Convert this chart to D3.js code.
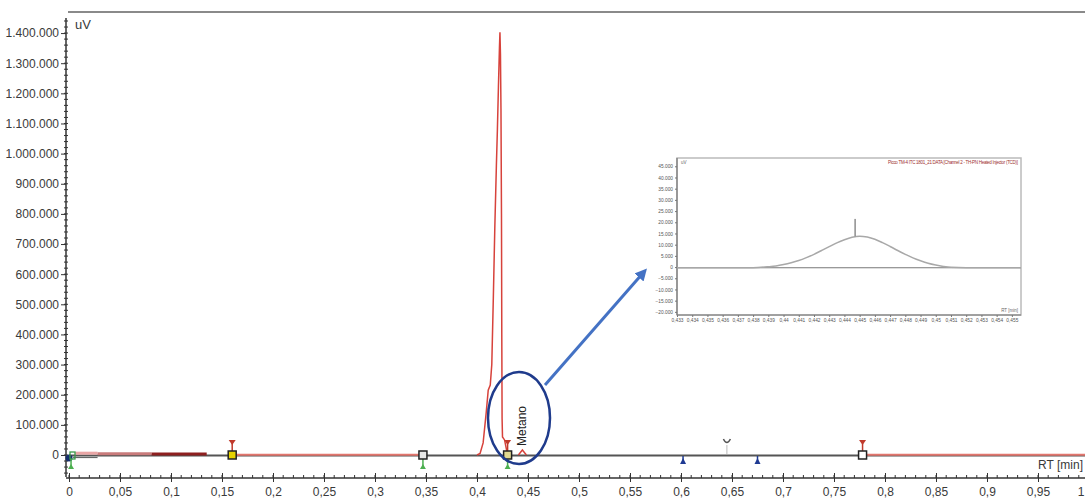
<!DOCTYPE html>
<html><head><meta charset="utf-8">
<script src="https://cdn.jsdelivr.net/npm/d3@7"></script>
<style>
body{margin:0;background:#fff}
svg{display:block;font-family:"Liberation Sans",Arial,sans-serif}
</style>
</head><body>
<svg id="c" width="1085" height="500"></svg>
<script>
// ---------------- DATA ----------------
const yTickValues = [0,100000,200000,300000,400000,500000,600000,700000,800000,900000,1000000,1100000,1200000,1300000,1400000];
const xTickValues = [0,0.05,0.1,0.15,0.2,0.25,0.3,0.35,0.4,0.45,0.5,0.55,0.6,0.65,0.7,0.75,0.8,0.85,0.9,0.95,1];

// main peak trace (RT min, uV)
const peakRT = [0.400,0.403,0.406,0.409,0.411,0.413,0.4145,0.416,0.4175,0.419,0.420,0.421,0.422,0.4225,0.423,0.4235,0.424,0.4243,0.4246,0.425,0.427,0.430];
const peakUV = [0,5000,40000,140000,215000,232000,300000,520000,760000,960000,1080000,1220000,1350000,1403000,1330000,1150000,800000,400000,120000,60000,50000,0];

// highlighted (red) baseline segments
const segStart = [0.006,0.028,0.081,0.160,0.778];
const segEnd   = [0.028,0.081,0.135,0.347,1.000];
const segUV    = [6000,4000,3500,1000,1000];

// integration markers
const squareRT   = [0.160,0.347,0.430,0.778];
const redTopRT   = [0.160,0.430,0.778];
const greenBotRT = [0.002,0.347,0.430];
const blueBotRT  = [0.602,0.675];
const grayTopRT  = [0.645];
const peakLabelRT = [0.4445];
const peakLabels  = ["Metano"];

// inset chromatogram
const insetRT = [0.433,0.436,0.438,0.439,0.4395,0.440,0.4405,0.441,0.4415,0.442,0.4425,0.443,0.4435,0.444,0.4445,0.445,0.4455,0.446,0.4465,0.447,0.4475,0.448,0.4485,0.449,0.4495,0.450,0.4505,0.451,0.452,0.455,0.4556];
const insetUV = [-300,-300,-280,150,500,1100,1900,2900,4200,5700,7400,9100,10800,12200,13300,13800,13400,12400,10900,9200,7400,5700,4100,2800,1700,900,300,-100,-280,-300,-300];
const insetYTicks = [-20000,-15000,-10000,-5000,0,5000,10000,15000,20000,25000,30000,35000,40000,45000];
const insetXTicks = [0.433,0.434,0.435,0.436,0.437,0.438,0.439,0.44,0.441,0.442,0.443,0.444,0.445,0.446,0.447,0.448,0.449,0.45,0.451,0.452,0.453,0.454,0.455];
const insetTitle = "Picco TM-4 ITC 1801_21 DATA [Channel 2 - TH-PN Heated Injector (TCD)]";

// ---------------- STYLES ----------------
const segColors = ["#e9a5a5","#c97b7b","#8e1f1f","#e2766e","#e2766e"];
const segWidths = [3,3,3,2,2];

// ---------------- DRAW ----------------
const svg = d3.select("#c");
const loc = d3.formatLocale({decimal:",", thousands:".", grouping:[3], currency:["",""]});
const fy = loc.format(",.0f");
const fx = loc.format(".2~f");
const fix = loc.format(".3~f");

const x = d3.scaleLinear().domain([0,1]).range([69,1089]);
const y = d3.scaleLinear().domain([-73000,1450000]).range([477,18]);
const base = y(0);

// top border
svg.append("line").attr("x1",68).attr("x2",1085).attr("y1",12).attr("y2",12)
  .attr("stroke","#8a8a8a").attr("stroke-width",2);

// Y axis (minor + major)
const yMinor = d3.range(-60000,1450001,20000);
const gy = svg.append("g").attr("transform","translate(66,0)");
gy.append("line").attr("x1",0).attr("x2",0).attr("y1",y(1450000)).attr("y2",477).attr("stroke","#333").attr("stroke-width",1.5);
gy.selectAll(".mn").data(yMinor).join("line").attr("x1",-2).attr("x2",2)
  .attr("y1",d=>y(d)).attr("y2",d=>y(d)).attr("stroke","#333");
gy.call(d3.axisLeft(y).tickValues(yTickValues).tickFormat(fy).tickSize(5).tickPadding(2))
  .call(g=>g.select(".domain").remove())
  .call(g=>g.selectAll("text").attr("font-size",12).attr("fill","#3a3a3a"))
  .call(g=>g.selectAll(".tick line").attr("stroke","#333"));

// X axis
const xMinor = d3.range(0,1.0001,0.01);
const gx = svg.append("g").attr("transform","translate(0,478)");
gx.append("line").attr("x1",66).attr("x2",1085).attr("y1",0).attr("y2",0).attr("stroke","#333").attr("stroke-width",1.5);
gx.selectAll(".mn").data(xMinor).join("line").attr("x1",d=>x(d)).attr("x2",d=>x(d))
  .attr("y1",-3).attr("y2",0).attr("stroke","#333");
gx.call(d3.axisBottom(x).tickValues(xTickValues).tickFormat(fx).tickSize(4).tickPadding(5))
  .call(g=>g.select(".domain").remove())
  .call(g=>g.selectAll("text").attr("font-size",12).attr("fill","#3a3a3a"))
  .call(g=>g.selectAll(".tick line").attr("stroke","#333").attr("y1",-5))
  .call(g=>g.selectAll(".tick").filter(d=>d===1).select("text").attr("text-anchor","end").attr("dx",-5));

// axis titles
svg.append("text").attr("x",75).attr("y",29).attr("font-size",13).attr("fill","#3a3a3a").text("uV");
svg.append("text").attr("x",1083).attr("y",469).attr("text-anchor","end").attr("font-size",12).attr("fill","#3a3a3a").text("RT [min]");

// baseline
svg.append("line").attr("x1",x(0)).attr("x2",1085).attr("y1",base+0.5).attr("y2",base+0.5)
  .attr("stroke","#555").attr("stroke-width",2);
svg.append("line").attr("x1",x(0.004)).attr("x2",x(0.028)).attr("y1",base+2.5).attr("y2",base+2.5)
  .attr("stroke","#666").attr("stroke-width",1.2);

// red segments
segStart.forEach((s,i)=>{
  svg.append("line").attr("x1",x(s)).attr("x2",x(segEnd[i]))
    .attr("y1",y(segUV[i])).attr("y2",y(segUV[i]))
    .attr("stroke",segColors[i]).attr("stroke-width",segWidths[i]);
});

// peak
const peakData = peakRT.map((r,i)=>[r,peakUV[i]]);
svg.append("path").datum(peakData)
  .attr("d",d3.line().x(d=>x(d[0])).y(d=>y(d[1])))
  .attr("fill","none").attr("stroke","#d7423b").attr("stroke-width",1.5);

// start markers
svg.append("circle").attr("cx",x(0)).attr("cy",base+3).attr("r",3.5).attr("fill","#17306e");
svg.append("rect").attr("x",x(0)+1).attr("y",base-3).attr("width",5).attr("height",7)
  .attr("fill","none").attr("stroke","#3a9a4a").attr("stroke-width",1.3);

// red top markers
redTopRT.forEach(r=>{
  const cx = x(r);
  svg.append("line").attr("x1",cx).attr("x2",cx).attr("y1",base-4).attr("y2",base-13).attr("stroke","#c0392b").attr("stroke-width",1.5);
  svg.append("path").attr("d",`M${cx-3.5},${base-15}L${cx+3.5},${base-15}L${cx},${base-10}Z`).attr("fill","#c0392b");
});
// green bottom markers
greenBotRT.forEach(r=>{
  const cx = x(r);
  svg.append("line").attr("x1",cx).attr("x2",cx).attr("y1",base+4).attr("y2",base+12).attr("stroke","#4caf50").attr("stroke-width",1.5);
  svg.append("path").attr("d",`M${cx-3},${base+14}L${cx+3},${base+14}L${cx},${base+9}Z`).attr("fill","#4caf50");
});
// blue bottom markers
blueBotRT.forEach(r=>{
  const cx = x(r);
  svg.append("line").attr("x1",cx).attr("x2",cx).attr("y1",base+1).attr("y2",base+8).attr("stroke","#1f3a93").attr("stroke-width",1.5);
  svg.append("path").attr("d",`M${cx-3},${base+9}L${cx+3},${base+9}L${cx},${base+3}Z`).attr("fill","#1f3a93");
});
// gray top chevrons
grayTopRT.forEach(r=>{
  const cx = x(r);
  svg.append("line").attr("x1",cx).attr("x2",cx).attr("y1",base-1).attr("y2",base-10).attr("stroke","#bbb").attr("stroke-width",1);
  svg.append("path").attr("d",`M${cx-3.5},${base-16}Q${cx},${base-9} ${cx+3.5},${base-16}`).attr("fill","none").attr("stroke","#555").attr("stroke-width",1.5);
});
// squares
const sqFill = ["#e6d200","#e8e8e8","#e0d890","#ffffff"];
squareRT.forEach((r,i)=>{
  svg.append("rect").attr("x",x(r)-4).attr("y",base-4).attr("width",8).attr("height",8)
    .attr("fill",sqFill[i]).attr("stroke","#222").attr("stroke-width",1.5);
});

// peak label + chevron
peakLabelRT.forEach((r,i)=>{
  const cx = x(r);
  svg.append("path").attr("d",`M${cx-4},${base}L${cx},${base-5}L${cx+4},${base}`).attr("fill","none").attr("stroke","#d7423b").attr("stroke-width",1.5);
  svg.append("text").attr("transform",`translate(${cx+4},${base-9}) rotate(-90)`)
    .attr("font-size",12).attr("fill","#222").text(peakLabels[i]);
});

// highlight ellipse
svg.append("ellipse").attr("cx",519).attr("cy",418).attr("rx",31).attr("ry",46)
  .attr("fill","none").attr("stroke","#1f3b8c").attr("stroke-width",2.5);

// arrow
svg.append("defs").append("marker").attr("id","ah").attr("viewBox","0 0 10 10")
  .attr("refX",5).attr("refY",5).attr("markerWidth",4).attr("markerHeight",4).attr("orient","auto")
  .append("path").attr("d","M0,0L10,5L0,10Z").attr("fill","#4472c4");
svg.append("line").attr("x1",545).attr("y1",385).attr("x2",643).attr("y2",273)
  .attr("stroke","#4472c4").attr("stroke-width",3).attr("marker-end","url(#ah)");

// ---------------- INSET ----------------
const ix = d3.scaleLinear().domain([0.433,0.4556]).range([677,1021]);
const iy = d3.scaleLinear().domain([-21400,48700]).range([315,158]);
const ins = svg.append("g");
ins.append("rect").attr("x",677).attr("y",158).attr("width",344).attr("height",157)
  .attr("fill","#fff").attr("stroke","#bbb").attr("stroke-width",1.5);
ins.append("line").attr("x1",677).attr("x2",677).attr("y1",158).attr("y2",315).attr("stroke","#777").attr("stroke-width",1.2);
ins.append("line").attr("x1",677).attr("x2",1021).attr("y1",315).attr("y2",315).attr("stroke","#777").attr("stroke-width",1.2);
ins.append("g").attr("transform","translate(677,0)")
  .call(d3.axisLeft(iy).tickValues(insetYTicks).tickFormat(fy).tickSize(2).tickPadding(2))
  .call(g=>g.select(".domain").remove())
  .call(g=>g.selectAll("text").attr("font-size",4.8).attr("fill","#555"))
  .call(g=>g.selectAll(".tick line").attr("stroke","#777"));
ins.append("g").attr("transform","translate(0,315)")
  .call(d3.axisBottom(ix).tickValues(insetXTicks).tickFormat(fix).tickSize(2).tickPadding(2))
  .call(g=>g.select(".domain").remove())
  .call(g=>g.selectAll("text").attr("font-size",4.8).attr("fill","#555"))
  .call(g=>g.selectAll(".tick line").attr("stroke","#777"));
ins.append("line").attr("x1",677).attr("x2",1021).attr("y1",iy(-300)).attr("y2",iy(-300))
  .attr("stroke","#777").attr("stroke-width",1.2);
ins.append("path").datum(insetRT.map((r,i)=>[r,insetUV[i]]))
  .attr("d",d3.line().curve(d3.curveMonotoneX).x(d=>ix(d[0])).y(d=>iy(d[1])))
  .attr("fill","none").attr("stroke","#a8a8a8").attr("stroke-width",1.5);
ins.append("line").attr("x1",ix(0.4447)).attr("x2",ix(0.4447)).attr("y1",iy(13800)).attr("y2",iy(21500))
  .attr("stroke","#555").attr("stroke-width",1);
ins.append("text").attr("x",681).attr("y",164).attr("font-size",4.5).attr("fill","#666").text("uV");
ins.append("text").attr("x",1018).attr("y",164).attr("text-anchor","end").attr("font-size",4.5)
  .attr("fill","#a03030").attr("textLength",130).text(insetTitle);
ins.append("text").attr("x",1018).attr("y",312).attr("text-anchor","end").attr("font-size",4.5).attr("fill","#666").text("RT [min]");
</script>
</body></html>
